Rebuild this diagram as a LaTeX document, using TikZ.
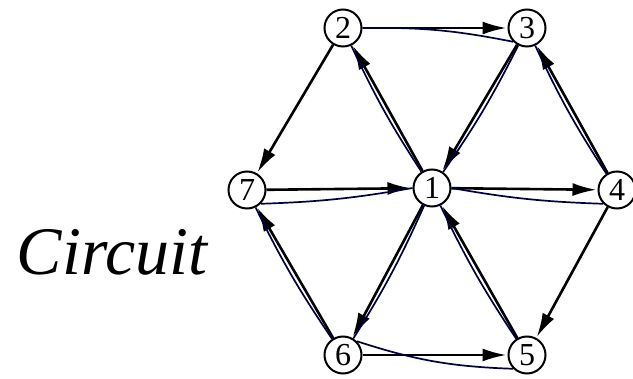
\documentclass[tikz,border=0pt]{standalone}
\usepackage{fontspec}
\setmainfont{Liberation Serif}
\usetikzlibrary{arrows.meta}
\begin{document}
\begin{tikzpicture}[x=1pt,y=-1pt,
  vertex/.style={circle,draw,line width=2pt,minimum size=37pt,inner sep=0pt,font=\fontsize{32}{32}\selectfont},
  arc/.style={line width=2.6pt,-{Latex[length=24pt,width=13pt]},shorten >=1pt},
  tour/.style={line width=1.7pt,draw=black!75!blue}]
\useasboundingbox (0,0) rectangle (633,379);
\fill[white] (0,0) rectangle (633,379);
\node[vertex] (v2) at (343,28) {2};
\node[vertex] (v3) at (527,28) {3};
\node[vertex] (v7) at (247,190) {7};
\node[vertex] (v1) at (432,188) {1};
\node[vertex] (v4) at (617,190) {4};
\node[vertex] (v6) at (343,355) {6};
\node[vertex] (v5) at (527,355) {5};
% straight arcs
\draw[arc] (v2) -- (v3);
\draw[arc] (v2) -- (v7);
\draw[arc] (v1) -- (v2);
\draw[arc] (v3) -- (v1);
\draw[arc] (v4) -- (v3);
\draw[arc] (v7) -- (v1);
\draw[arc] (v1) -- (v4);
\draw[arc] (v4) -- (v5);
\draw[arc] (v6) -- (v7);
\draw[arc] (v1) -- (v6);
\draw[arc] (v5) -- (v1);
\draw[arc] (v6) -- (v5);
% circuit companion lines
\draw[tour] (v2.east) to[bend left=6] (v3.south west);
\draw[tour] (v1) to[bend left=4] (v2);
\draw[tour] (v3) to[bend left=4] (v1);
\draw[tour] (v4) to[bend left=4] (v3);
\draw[tour] (v7.south east) to[bend right=4] (v1.west);
\draw[tour] (v1.east) to[bend right=4] (v4.south west);
\draw[tour] (v6) to[bend left=4] (v7);
\draw[tour] (v1) to[bend left=4] (v6);
\draw[tour] (v5) to[bend left=4] (v1);
\draw[tour] (v6.north east) to[bend right=8] (v5.south west);
% handwritten label
\node[font=\fontsize{68}{68}\selectfont\itshape] (lbl) at (112,252) {Circuit};
\end{tikzpicture}
\end{document}
